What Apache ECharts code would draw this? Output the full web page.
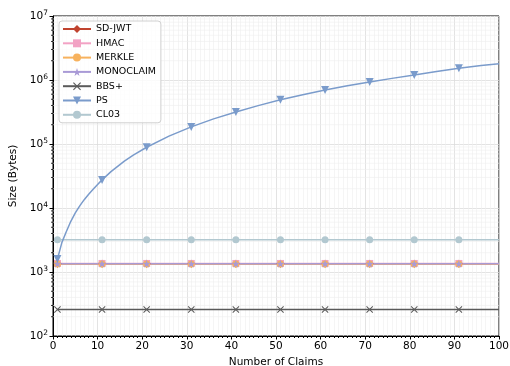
<!DOCTYPE html>
<html>
<head>
<meta charset="utf-8">
<script src="https://cdn.jsdelivr.net/npm/echarts@6/dist/echarts.min.js"></script>
<style>
html, body { margin: 0; padding: 0; background: #fff; }
#chart { width: 510px; height: 366px; }
</style>
</head>
<body>
<div id="chart"></div>
<script>
// values (bytes), one per claim count
var claims = [1, 11, 21, 31, 41, 51, 61, 71, 81, 91, 100];
var markerClaims = [1, 11, 21, 31, 41, 51, 61, 71, 81, 91];
var sdJwt     = [1340, 1340, 1340, 1340, 1340, 1340, 1340, 1340, 1340, 1340, 1340];
var hmac      = [1360, 1360, 1360, 1360, 1360, 1360, 1360, 1360, 1360, 1360, 1360];
var merkle    = [1330, 1330, 1330, 1330, 1330, 1330, 1330, 1330, 1330, 1330, 1330];
var monoclaim = [1350, 1350, 1350, 1350, 1350, 1350, 1350, 1350, 1350, 1350, 1350];
var bbsPlus   = [260, 260, 260, 260, 260, 260, 260, 260, 260, 260, 260];
var cl03      = [3200, 3200, 3200, 3200, 3200, 3200, 3200, 3200, 3200, 3200, 3200];
// PS grows fast, extra points
var psClaims = [1, 2, 3, 4, 5, 6, 7, 8, 9, 10, 11, 13, 16, 18, 21, 26, 31, 36, 41, 46, 51, 56, 61, 66, 71, 76, 81, 86, 91, 96, 100];
var psValues = [1600, 2900, 4300, 6200, 8400, 10800, 13500, 16400, 19600, 23300, 27500,
                37000, 54000, 67000, 89000, 133000, 185000, 247000, 316000, 398000, 490000,
                590000, 700000, 810000, 930000, 1060000, 1200000, 1360000, 1520000, 1690000, 1800000];

var yTicks = [100, 1000, 10000, 100000, 1000000, 10000000];
var minorY = [];
for (var i = 0; i < yTicks.length - 1; i++) {
    for (var k = 2; k <= 9; k++) {
        minorY.push([0, yTicks[i] * k]);
    }
}

function mkData(xs, ys) {
    var out = [];
    for (var i = 0; i < xs.length; i++) {
        var item = {value: [xs[i], ys[i]]};
        if (markerClaims.indexOf(xs[i]) < 0) {
            item.symbol = 'none';
        }
        out.push(item);
    }
    return out;
}

var starPath = 'path://M5,0L6.2,3.6L10,3.6L7,5.9L8.1,9.5L5,7.3L1.9,9.5L3,5.9L0,3.6L3.8,3.6Z';
var xPath = 'path://M1,0L5,4L9,0L10,1L6,5L10,9L9,10L5,6L1,10L0,9L4,5L0,1Z';

function lineSeries(name, color, symbol, size, xs, ys, extra) {
    var s = {
        name: name,
        type: 'line',
        data: mkData(xs, ys),
        symbol: symbol,
        symbolSize: size,
        showAllSymbol: true,
        color: color,
        lineStyle: {width: 1.5, color: color},
        itemStyle: {color: color},
        emphasis: {disabled: true},
        animation: false,
        z: 3
    };
    if (extra) {
        for (var key in extra) s[key] = extra[key];
    }
    return s;
}

var myChart = echarts.init(document.getElementById('chart'));
var fontName = 'DejaVu Sans';

var option = {
    backgroundColor: '#fff',
    animation: false,
    textStyle: {fontFamily: fontName},
    grid: {
        left: 53, right: 11, top: 16, bottom: 30,
        outerBoundsMode: 'none',
        containLabel: false,
        show: true, borderColor: '#000', borderWidth: 1
    },
    legend: {
        orient: 'vertical',
        left: 59, top: 21,
        padding: [3, 5, 3, 3],
        itemWidth: 28, itemHeight: 10, itemGap: 4.3,
        backgroundColor: 'rgba(255,255,255,0.8)',
        borderColor: '#d0d0d0', borderWidth: 1, borderRadius: 3,
        textStyle: {fontFamily: fontName, fontSize: 9.5, color: '#000'},
        data: ['SD-JWT', 'HMAC', 'MERKLE', 'MONOCLAIM', 'BBS+', 'PS', 'CL03']
    },
    xAxis: {
        type: 'value',
        min: 0, max: 100, interval: 10,
        name: 'Number of Claims',
        nameLocation: 'middle',
        nameGap: 21,
        nameTextStyle: {fontFamily: fontName, fontSize: 10.5, color: '#000'},
        axisLine: {lineStyle: {color: '#000', width: 1}},
        axisTick: {length: 3.5, lineStyle: {color: '#000'}},
        minorTick: {show: true, splitNumber: 10, length: 2, lineStyle: {color: '#000'}},
        axisLabel: {fontFamily: fontName, fontSize: 10.5, color: '#000', margin: 5},
        splitLine: {show: true, lineStyle: {color: '#dcdcdc', width: 0.8}},
        minorSplitLine: {show: true, lineStyle: {color: '#efefef', width: 0.6}}
    },
    yAxis: {
        type: 'log',
        logBase: 10,
        min: 100, max: 10000000,
        name: 'Size (Bytes)',
        nameLocation: 'middle',
        nameGap: 29,
        nameTextStyle: {fontFamily: fontName, fontSize: 10.5, color: '#000'},
        axisLine: {show: true, lineStyle: {color: '#000', width: 1}},
        axisTick: {show: true, length: 3.5, lineStyle: {color: '#000'}},
        axisLabel: {
            fontFamily: fontName, fontSize: 10.5, color: '#000', margin: 5,
            formatter: function (v) {
                var p = Math.round(Math.log10(v));
                return '10{sup|' + p + '}';
            },
            rich: {
                sup: {fontSize: 7.5, verticalAlign: 'top', padding: [0, 0, 6, 0], fontFamily: fontName, color: '#000'}
            }
        },
        splitLine: {show: true, lineStyle: {color: '#dcdcdc', width: 0.8}}
    },
    series: [
        {
            name: 'minorY',
            type: 'custom',
            data: minorY,
            encode: {x: 0, y: 1},
            clip: false,
            silent: true,
            z: 1,
            renderItem: function (params, api) {
                var pt = api.coord([0, api.value(1)]);
                var cs = params.coordSys;
                return {
                    type: 'group',
                    children: [{
                        type: 'line',
                        shape: {x1: cs.x, y1: pt[1], x2: cs.x + cs.width, y2: pt[1]},
                        style: {stroke: '#efefef', lineWidth: 0.6}
                    }, {
                        type: 'line',
                        shape: {x1: cs.x - 2, y1: pt[1], x2: cs.x, y2: pt[1]},
                        style: {stroke: '#000', lineWidth: 0.8}
                    }]
                };
            }
        },
        lineSeries('SD-JWT', '#c0432f', 'diamond', 8, claims, sdJwt),
        lineSeries('HMAC', '#f2a2c4', 'rect', 7, claims, hmac),
        lineSeries('MERKLE', '#f7b25e', 'circle', 7, claims, merkle),
        lineSeries('MONOCLAIM', '#a99ad6', starPath, 8, claims, monoclaim),
        lineSeries('BBS+', '#5a5a5a', xPath, 7, claims, bbsPlus),
        lineSeries('PS', '#7a9bcb', 'triangle', 8, psClaims, psValues, {symbolRotate: 180, z: 4}),
        lineSeries('CL03', '#b2c8d0', 'circle', 7, claims, cl03)
    ]
};

myChart.setOption(option);
</script>
</body>
</html>
